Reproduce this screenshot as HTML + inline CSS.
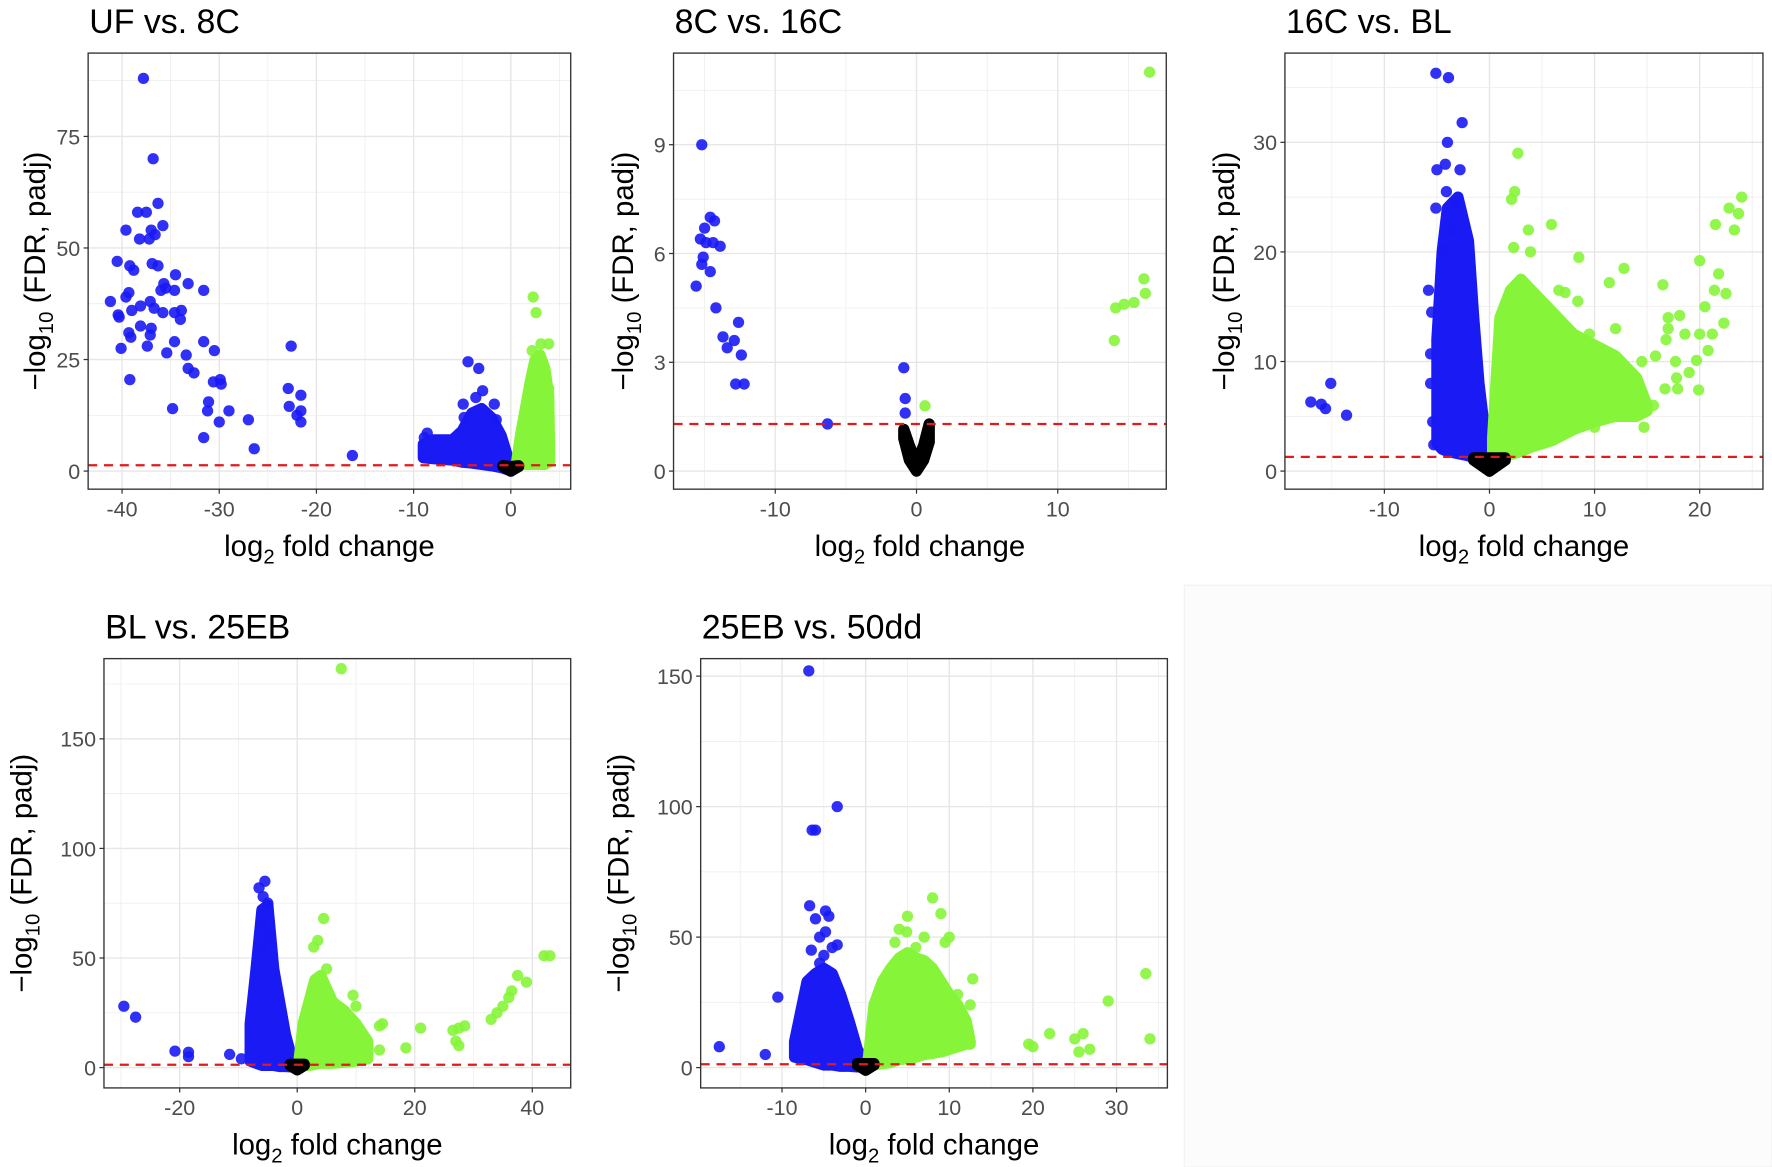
<!DOCTYPE html>
<html><head><meta charset="utf-8">
<style>
html,body{margin:0;padding:0;background:#fff;}
svg{display:block;font-family:"Liberation Sans",Arial,sans-serif;}
</style></head>
<body>
<svg id="fig" width="1772" height="1167" viewBox="0 0 1568 1033" preserveAspectRatio="none" xmlns="http://www.w3.org/2000/svg">
<rect x="1048" y="518" width="520" height="515" fill="#fcfcfc" stroke="#f2f2f2"/>
</svg>
<script>
// ===== Panel 1: UF vs. 8C =====
const p1XTicks=[-40,-30,-20,-10,0];
const p1YTicks=[0,25,50,75];
const p1BlueX=[-37.8,-36.8,-36.3,-37.5,-38.4,-39.6,-35.8,-37,-36.6,-37.2,-38.2,-40.5,-39.2,-38.8,-36.9,-36.3,-34.5,-33.2,-35.7,-35.5,-34.6,-36,-31.6,-41.2,-39.6,-39.3,-37.1,-38.1,-36.7,-39,-35.8,-34.6,-33.9,-40.4,-40.3,-34.0,-38.1,-37,-39.3,-37.1,-39.1,-34.6,-31.6,-37.4,-40.1,-30.5,-35.4,-33.4,-33.2,-32.6,-39.2,-30.6,-29.9,-29.8,-31.1,-31.2,-34.8,-29,-30,-27,-31.6,-26.4,-22.6,-22.9,-21.6,-22.8,-21.6,-22,-21.6,-16.3,-4.4,-3.3,-2.9,-3.6,-4.9,-1.7,-4.8,-1.5,-8.6,-8.9];
const p1BlueY=[88,70,60,58,58,54,55,54,53,52,52,47,46,45,46.5,46,44,42,42,41,40.5,40.5,40.5,38,39,40,38,37,36.5,36,35.5,35.5,36,35,34.5,34,32.5,32,31,30.5,30,29,29,28,27.5,27,26.5,26,23,22,20.5,20,20.5,19.5,15.5,13.5,14,13.5,11,11.5,7.5,5,28,18.5,17,14.5,13.5,12.5,11,3.5,24.5,23,18,16.5,15,15,12,11.5,8.5,7.5];
const p1GreenX=[2.3,2.6,3.1,3.9,2.2,3.9,3.9];
const p1GreenY=[39,35.5,28.5,28.5,27,18.5,2.5];
const p1BlueCloudX=[-9,-8,-6,-5,-4,-3,-2,-1,-0.3,0];
const p1BlueCloudTop=[6,7,7,9,13,14,12,8,3,0.5];
const p1BlueCloudBottom=[3,2.8,2.5,2,1.8,1.5,1.2,0.8,0.3,0];
const p1GreenCloudX=[0.6,1,1.5,2,2.5,3,3.5,3.9,4.0];
const p1GreenCloudTop=[2,8,14,20,25,26,23,17,3];
const p1GreenCloudBottom=[1.5,1.5,1.5,1.5,1.5,1.5,1.5,2,2];
const p1BlackX=[-0.8,0,0.8];
const p1BlackTop=[1.2,1.0,1.2];
const p1BlackBottom=[1.0,0,1.0];

// ===== Panel 2: 8C vs. 16C =====
const p2XTicks=[-10,0,10];
const p2YTicks=[0,3,6,9];
const p2BlueX=[-15.2,-14.6,-14.3,-15,-15.3,-14.9,-14.4,-13.9,-15.1,-15.2,-14.6,-15.6,-14.2,-12.6,-13.7,-12.9,-13.4,-12.4,-12.8,-12.2,-6.3,-0.9,-0.8,-0.8];
const p2BlueY=[9,7,6.9,6.7,6.4,6.3,6.3,6.2,5.9,5.7,5.5,5.1,4.5,4.1,3.7,3.6,3.4,3.2,2.4,2.4,1.3,2.85,2.0,1.6];
const p2GreenX=[16.5,16.1,16.2,14.1,14.7,15.4,14.0,0.6];
const p2GreenY=[11,5.3,4.9,4.5,4.6,4.65,3.6,1.8];
const p2BlackX=[-0.9,-0.5,0,0.5,0.9];
const p2BlackTop=[1.15,0.7,0.2,0.7,1.3];
const p2BlackBottom=[0.9,0.3,0,0.3,0.8];

// ===== Panel 3: 16C vs. BL =====
const p3XTicks=[-10,0,10,20];
const p3YTicks=[0,10,20,30];
const p3BlueX=[-17,-16,-15.6,-15.1,-13.6,-5.1,-3.9,-2.6,-4,-4.2,-5,-2.8,-5.1,-5.8,-5.5,-5.6,-5.6,-5.4,-5.3,-4.1,-3.2,-4.4,-3.5];
const p3BlueY=[6.3,6.1,5.7,8,5.1,36.3,35.9,31.8,30,28,27.5,27.5,24,16.5,14.5,10.7,8,4.5,2.4,25.5,24.5,20.2,22];
const p3GreenX=[2.7,2.4,2.1,3.7,5.9,2.3,3.9,8.5,12.8,11.4,6.6,7.2,8.4,16.5,20,21.5,22.8,24,23.7,23.3,21.8,21.4,22.5,20.5,22.3,18.1,17,17,18.6,20,21.2,16.8,20.8,15.8,17.7,19.7,19,17.8,16.7,17.9,19.9,14.7,15.6,13.9,11.4,10,13,9.5,12,14.5];
const p3GreenY=[29,25.5,24.8,22,22.5,20.4,20,19.5,18.5,17.2,16.5,16.3,15.5,17,19.2,22.5,24,25,23.5,22,18,16.5,16.2,15,13.5,14.2,14,13,12.5,12.5,12.5,12,11,10.5,10,10.1,9,8.5,7.5,7.5,7.4,4,6,5,5.5,4,8,12.5,13,10];
const p3BlueCloudX=[-5,-4.5,-4,-3,-2,-1.5,-1,-0.5,0];
const p3BlueCloudTop=[12,20,24,25,21,14,8,4,1.5];
const p3BlueCloudBottom=[2.5,2,1.8,1.6,1.4,1.2,1,0.6,0];
const p3GreenCloudX=[0.3,1,2,3,4,6,8,10,12,14,15];
const p3GreenCloudTop=[3,14,16.5,17.5,16.5,14.5,12.5,11.5,10.5,8.5,6];
const p3GreenCloudBottom=[1.5,1.5,1.5,1.8,2.2,2.8,3.8,4.5,5,5,5.5];
const p3BlackX=[-1.5,0,1.5];
const p3BlackTop=[1.2,1.2,1.2];
const p3BlackBottom=[1.0,0,1.0];

// ===== Panel 4: BL vs. 25EB =====
const p4XTicks=[-20,0,20,40];
const p4YTicks=[0,50,100,150];
const p4BlueX=[-29.5,-27.5,-20.8,-18.5,-18.5,-11.5,-9.5,-6.5,-5.5,-5.8,-5,-6,-6.2,-4.8];
const p4BlueY=[28,23,7.5,7,5,6,4,82,85,78,75,65,55,60];
const p4GreenX=[7.5,4.5,3.5,2.8,5,9.5,10,14.5,14,14,18.5,21,26.5,27,27.5,27.5,28.5,33,34,35,36,36.5,37.5,39,42,43];
const p4GreenY=[182,68,58,55,45,33,28,20,19,8,9,18,17,12,10,18,19,22,25,28,32,35,42,39,51,51];
const p4BlueCloudX=[-8,-7,-6,-5,-4,-3,-2,-1,0];
const p4BlueCloudTop=[20,45,72,74,45,30,15,5,1];
const p4BlueCloudBottom=[3,2,1,1,1,0.5,0.5,0.3,0];
const p4GreenCloudX=[0.3,1,2,3,4,5,6,8,10,12];
const p4GreenCloudTop=[3,20,30,40,42,36,30,26,20,12];
const p4GreenCloudBottom=[1,1,1,1.5,2,2,2,2.5,3,4];
const p4BlackX=[-1.2,0,1.2];
const p4BlackTop=[1.5,1.5,1.5];
const p4BlackBottom=[1,-1,1];

// ===== Panel 5: 25EB vs. 50dd =====
const p5XTicks=[-10,0,10,20,30];
const p5YTicks=[0,50,100,150];
const p5BlueX=[-6.8,-3.4,-6.4,-6,-6.7,-4.8,-4.4,-6,-5.5,-4.8,-6.5,-3.4,-4,-5,-5.5,-17.5,-12,-10.5];
const p5BlueY=[152,100,91,91,62,60,58,57,50,52,45,47,46,43,40,8,5,27];
const p5GreenX=[8,9,5,4.9,10,9.5,4,3.5,12.8,11,12.5,19.5,20,22,25,26,25.5,26.8,29,33.5,34,7,6];
const p5GreenY=[65,59,58,52,50,48,53,48,34,28,24,9,8,13,11,13,6,7,25.5,36,11,50,46];
const p5BlueCloudX=[-8.5,-7,-6,-5,-4,-3,-2,-1,0];
const p5BlueCloudTop=[10,33,36,38,36,28,18,7,1];
const p5BlueCloudBottom=[4,3,2,1,1,0.5,0.5,0.3,0];
const p5GreenCloudX=[0.3,1,2,3,4,5,6,7,8,9,10,11,12,12.5];
const p5GreenCloudTop=[3,24,33,38,42,44,42,41,38,33,28,24,18,10];
const p5GreenCloudBottom=[1,1,1.5,2,3,3.5,4,5,5.5,6,7,8,9,9];
const p5BlackX=[-1,0,1];
const p5BlackTop=[1.5,1.5,1.5];
const p5BlackBottom=[1,-1,1];

const thresholdY=1.3;

const NS="http://www.w3.org/2000/svg";
const svg=document.getElementById('fig');
function mk(tag,attrs,parent){const e=document.createElementNS(NS,tag);for(const k in attrs)e.setAttribute(k,attrs[k]);(parent||svg).appendChild(e);return e;}

const BLUE="#1a1af5", GREEN="#86f53a";

function panel(cfg){
  const g=mk('g',{});
  
  
  const {L,R,T,B,x0,xs,y0,ys}=cfg;
  const X=v=>x0+xs*v, Y=v=>y0-ys*v;
  const xmin=(L-x0)/xs, xmax=(R-x0)/xs, ymin=(y0-B)/ys, ymax=(y0-T)/ys;
  const cid='clip'+cfg.id;
  const cp=mk('clipPath',{id:cid},g); mk('rect',{x:L,y:T,width:R-L,height:B-T},cp);
  const xst=cfg.xt[1]-cfg.xt[0], yst=cfg.yt[1]-cfg.yt[0];
  for(let v=cfg.xt[0]-xst*4.5; v<=xmax; v+=xst){ if(v>=xmin) mk('line',{x1:X(v),x2:X(v),y1:T,y2:B,stroke:'#ebebeb','stroke-width':0.6},g);}
  for(let v=cfg.yt[0]-yst*4.5; v<=ymax; v+=yst){ if(v>=ymin) mk('line',{x1:L,x2:R,y1:Y(v),y2:Y(v),stroke:'#ebebeb','stroke-width':0.6},g);}
  cfg.xt.forEach(v=>{const l=mk('line',{x1:X(v),x2:X(v),y1:T,y2:B,stroke:'#e6e6e6','stroke-width':1.2},g);});
  cfg.yt.forEach(v=>{const l=mk('line',{x1:L,x2:R,y1:Y(v),y2:Y(v),stroke:'#e6e6e6','stroke-width':1.2},g);});
  const pg=mk('g',{'clip-path':`url(#${cid})`},g);
  function cloud(xs_,top,bot,color,nm){
    let pts=xs_.map((v,i)=>X(v)+','+Y(top[i]));
    for(let i=xs_.length-1;i>=0;i--) pts.push(X(xs_[i])+','+Y(bot[i]));
    const p=mk('polygon',{points:pts.join(' '),fill:color,stroke:color,'stroke-width':10,'stroke-linejoin':'round'},pg);
    
    
  }
  if(cfg.bcx) cloud(cfg.bcx,cfg.bct,cfg.bcb,BLUE,'blue-point-cloud');
  if(cfg.gcx) cloud(cfg.gcx,cfg.gct,cfg.gcb,GREEN,'green-point-cloud');
  cloud(cfg.kx,cfg.kt,cfg.kb,'#000','black-point-cloud');
  function pts(xa,ya,color,nm){
    xa.forEach((v,i)=>{const c=mk('circle',{cx:X(v),cy:Y(ya[i]),r:5,fill:color,'fill-opacity':0.9},pg);
      
      });
  }
  pts(cfg.bx,cfg.by,BLUE,'down-regulated-point');
  pts(cfg.gx,cfg.gy,GREEN,'up-regulated-point');
  const th=mk('line',{x1:L,x2:R,y1:Y(thresholdY),y2:Y(thresholdY),stroke:'#e31a1c','stroke-width':2,'stroke-dasharray':'8,6'},pg);
  
  
  mk('rect',{x:L,y:T,width:R-L,height:B-T,fill:'none',stroke:'#333','stroke-width':1.2},g);
  cfg.xt.forEach(v=>{
    mk('line',{x1:X(v),x2:X(v),y1:B,y2:B+4,stroke:'#333','stroke-width':1.1},g);
    const t=mk('text',{x:X(v),y:B+24,'text-anchor':'middle','font-size':19,fill:'#4d4d4d'},g);t.textContent=v;
    
    
  });
  cfg.yt.forEach(v=>{
    mk('line',{x1:L-4,x2:L,y1:Y(v),y2:Y(v),stroke:'#333','stroke-width':1.1},g);
    const t=mk('text',{x:L-7,y:Y(v)+7,'text-anchor':'end','font-size':19,fill:'#4d4d4d'},g);t.textContent=v;
    
    
  });
  const tt=mk('text',{x:L+1,y:T-18,'font-size':30,fill:'#000'},g);tt.textContent=cfg.title;
  
  
  const xt=mk('text',{x:(L+R)/2,y:B+59,'text-anchor':'middle','font-size':26,fill:'#000'},g);
  xt.innerHTML='log<tspan dy="7" font-size="18">2</tspan><tspan dy="-7"> fold change</tspan>';
  
  
  const cy=(T+B)/2;
  const yt=mk('text',{x:0,y:0,'text-anchor':'middle','font-size':26,fill:'#000',transform:`translate(${cfg.yx},${cy}) rotate(-90)`},g);
  yt.innerHTML='−log<tspan dy="7" font-size="18">10</tspan><tspan dy="-7"> (FDR, padj)</tspan>';
  
  
}

panel({id:1,name:'panel-uf-vs-8c',title:'UF vs. 8C',L:78,R:505,T:47,B:433,x0:452,xs:8.6,y0:417,ys:3.95,yx:40,
  xt:p1XTicks,yt:p1YTicks,bx:p1BlueX,by:p1BlueY,gx:p1GreenX,gy:p1GreenY,
  bcx:p1BlueCloudX,bct:p1BlueCloudTop,bcb:p1BlueCloudBottom,gcx:p1GreenCloudX,gct:p1GreenCloudTop,gcb:p1GreenCloudBottom,
  kx:p1BlackX,kt:p1BlackTop,kb:p1BlackBottom});
panel({id:2,name:'panel-8c-vs-16c',title:'8C vs. 16C',L:596,R:1032,T:47,B:433,x0:811,xs:12.5,y0:417,ys:32.1,yx:560,
  xt:p2XTicks,yt:p2YTicks,bx:p2BlueX,by:p2BlueY,gx:p2GreenX,gy:p2GreenY,
  kx:p2BlackX,kt:p2BlackTop,kb:p2BlackBottom});
panel({id:3,name:'panel-16c-vs-bl',title:'16C vs. BL',L:1137,R:1560,T:47,B:433,x0:1318,xs:9.3,y0:417,ys:9.7,yx:1092,
  xt:p3XTicks,yt:p3YTicks,bx:p3BlueX,by:p3BlueY,gx:p3GreenX,gy:p3GreenY,
  bcx:p3BlueCloudX,bct:p3BlueCloudTop,bcb:p3BlueCloudBottom,gcx:p3GreenCloudX,gct:p3GreenCloudTop,gcb:p3GreenCloudBottom,
  kx:p3BlackX,kt:p3BlackTop,kb:p3BlackBottom});
panel({id:4,name:'panel-bl-vs-25eb',title:'BL vs. 25EB',L:92,R:505,T:583,B:963,x0:263,xs:5.2,y0:945,ys:1.94,yx:28,
  xt:p4XTicks,yt:p4YTicks,bx:p4BlueX,by:p4BlueY,gx:p4GreenX,gy:p4GreenY,
  bcx:p4BlueCloudX,bct:p4BlueCloudTop,bcb:p4BlueCloudBottom,gcx:p4GreenCloudX,gct:p4GreenCloudTop,gcb:p4GreenCloudBottom,
  kx:p4BlackX,kt:p4BlackTop,kb:p4BlackBottom});
panel({id:5,name:'panel-25eb-vs-50dd',title:'25EB vs. 50dd',L:620,R:1033,T:583,B:963,x0:766,xs:7.4,y0:945,ys:2.31,yx:556,
  xt:p5XTicks,yt:p5YTicks,bx:p5BlueX,by:p5BlueY,gx:p5GreenX,gy:p5GreenY,
  bcx:p5BlueCloudX,bct:p5BlueCloudTop,bcb:p5BlueCloudBottom,gcx:p5GreenCloudX,gct:p5GreenCloudTop,gcb:p5GreenCloudBottom,
  kx:p5BlackX,kt:p5BlackTop,kb:p5BlackBottom});
</script>
</body></html>
